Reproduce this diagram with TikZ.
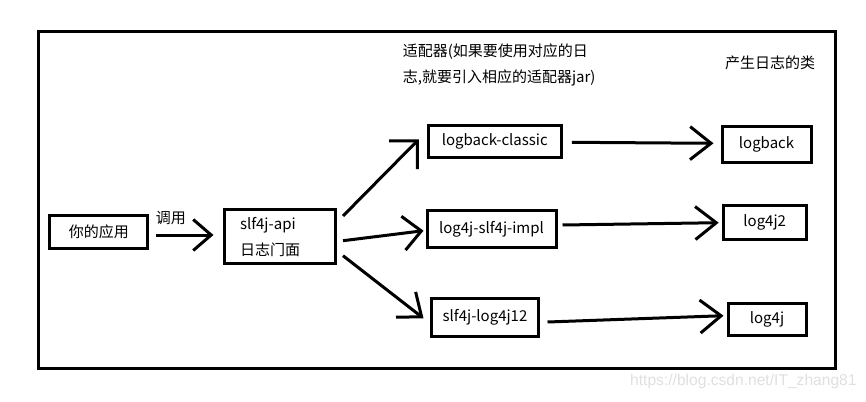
\documentclass[tikz,border=0pt]{standalone}
\usepackage{fontspec}
\setmainfont{Noto Sans CJK SC}
\newfontfamily\wmfont{Liberation Sans}
\usetikzlibrary{arrows.meta,calc}
\begin{document}
\begin{tikzpicture}[x=1pt,y=-1pt,
  box/.style={draw=black, line width=3pt, inner sep=0pt, font=\fontsize{15}{18}\selectfont},
  lbl/.style={inner sep=0pt, font=\fontsize{15}{26}\selectfont},
  conn/.style={line width=3pt, -{Straight Barb[length=20pt,width=32pt]}},
]
\useasboundingbox (0,0) rectangle (866,401);
\fill[white] (0,0) rectangle (866,401);
% frame
\draw[line width=3pt] (38.5,31.5) rectangle (835,368.5);

% boxes
\node[box, minimum width=98pt, minimum height=33pt] (app) at (98.8,232) {你的应用};
\node[box, minimum width=111pt, minimum height=54pt, inner xsep=16pt, text width=79pt, align=left,
      font=\fontsize{15}{26}\selectfont] (api) at (279.5,236.7) {slf4j-api\\日志门面};
\node[box, minimum width=133pt, minimum height=32pt] (lc) at (494.8,141.7) {logback-classic};
\node[box, minimum width=129pt, minimum height=37pt] (impl) at (491.5,229.2) {log4j-slf4j-impl};
\node[box, minimum width=107pt, minimum height=38pt] (l12) at (485,317) {slf4j-log4j12};
\node[box, minimum width=89pt, minimum height=36pt] (lb) at (766.5,144.5) {logback};
\node[box, minimum width=83pt, minimum height=34pt] (l2) at (764.7,222.3) {log4j2};
\node[box, minimum width=78pt, minimum height=32pt] (l4) at (767,319.2) {log4j};

% labels
\node[lbl] (call) at (170.8,218) {调用};
\node[lbl, anchor=west, align=left] (adapt) at (402.7,64.7) {适配器(如果要使用对应的日\\志,就要引入相应的适配器jar)};
\node[lbl, anchor=west] (prod) at (725,62.7) {产生日志的类};
\node[anchor=west, inner sep=0pt, text=black!12, font=\wmfont\fontsize{15.6}{18}\selectfont] (wm) at (630,381.7) {https://blog.csdn.net/IT\_zhang81};

% connectors
\draw[conn, -{Straight Barb[length=18pt,width=31pt]}] ($(app.east)+(7,3)$) -- ($(api.west)+(-9,-1.7)$);
\draw[conn, -{Straight Barb[length=20pt,width=40pt]}] ($(api.east)+(6.5,-20.7)$) -- ($(lc.west)+(-8,-2.4)$);
\draw[conn, -{Straight Barb[length=18pt,width=34pt]}] ($(api.east)+(6.5,4)$) -- ($(impl.west)+(-2,1.5)$);
\draw[conn] ($(api.east)+(6.5,19)$) -- ($(l12.west)+(-6.5,1.3)$);
\draw[conn, -{Straight Barb[length=21pt,width=33pt]}] ($(lc.east)+(9,0.6)$) -- ($(lb.west)+(-7,-1.2)$);
\draw[conn, -{Straight Barb[length=21pt,width=33pt]}] ($(impl.east)+(5,-4.2)$) -- ($(l2.west)+(-3,0.4)$);
\draw[conn, -{Straight Barb[length=21pt,width=33pt]}] ($(l12.east)+(7.5,5)$) -- ($(l4.west)+(-3,-3.5)$);
\end{tikzpicture}
\end{document}
